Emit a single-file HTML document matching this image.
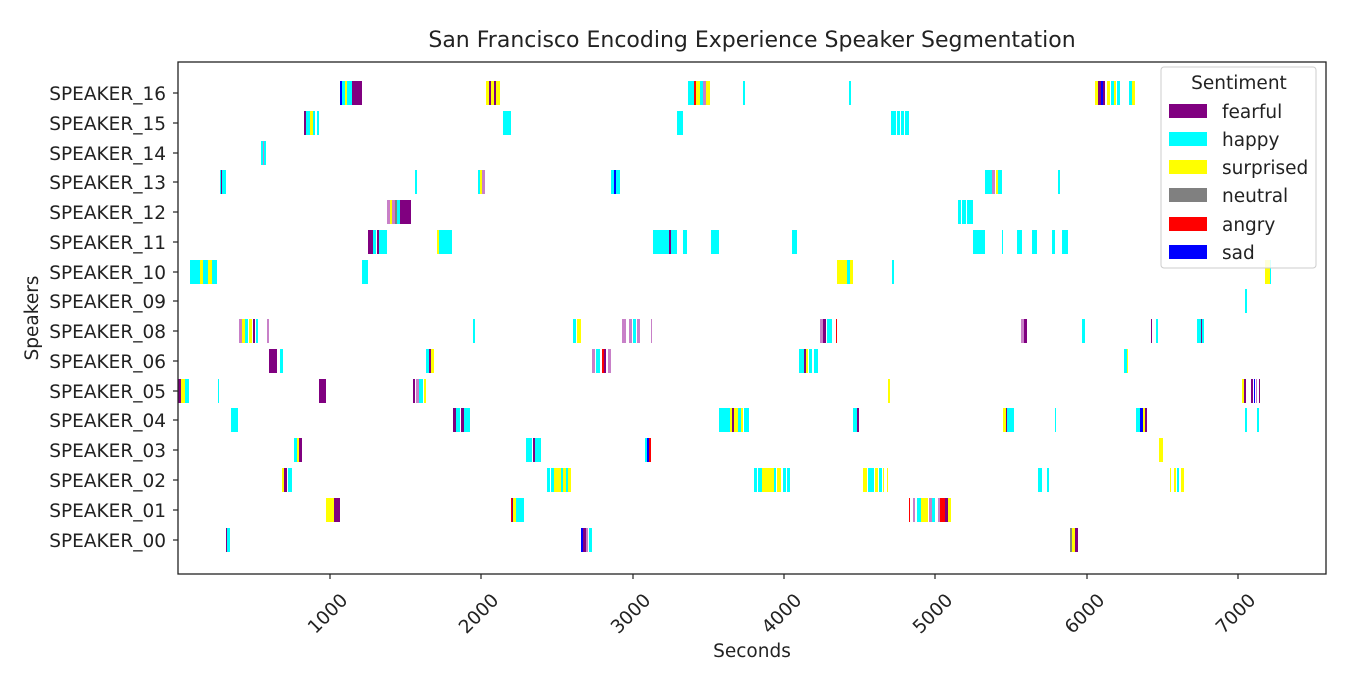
<!DOCTYPE html>
<html><head><meta charset="utf-8"><style>body{margin:0;background:#fff}svg{display:block}text{font-family:"DejaVu Sans","Liberation Sans",sans-serif;fill:#222}</style></head><body>
<svg width="1350" height="676" viewBox="0 0 1350 676" xmlns="http://www.w3.org/2000/svg">
<rect width="1350" height="676" fill="#fff"/>
<text x="752" y="47" font-size="22" text-anchor="middle">San Francisco Encoding Experience Speaker Segmentation</text>
<defs><style>.p{fill:#800080}.c{fill:#00ffff}.y{fill:#ffff00}.g{fill:#808080}.r{fill:#ff0000}.b{fill:#0000ff}.k{fill:#c880c8}.lc{fill:#a0ffff}</style></defs>
<g transform="translate(0,81)">
<rect class="b" x="340" y="0" width="2" height="24"/><rect class="c" x="342" y="0" width="3" height="24"/><rect class="y" x="345" y="0" width="2" height="24"/><rect class="c" x="347" y="0" width="5" height="24"/><rect class="p" x="352" y="0" width="10" height="24"/>
<rect class="y" x="486" y="0" width="3" height="24"/><rect class="p" x="489" y="0" width="2" height="24"/><rect class="y" x="491" y="0" width="3" height="24"/><rect class="p" x="494" y="0" width="2" height="24"/><rect class="y" x="496" y="0" width="4" height="24"/>
<rect class="c" x="688" y="0" width="6" height="24"/><rect class="r" x="694" y="0" width="2" height="24"/><rect class="y" x="696" y="0" width="4" height="24"/><rect class="c" x="700" y="0" width="3" height="24"/><rect class="k" x="703" y="0" width="3" height="24"/><rect class="y" x="706" y="0" width="4" height="24"/>
<rect class="c" x="743" y="0" width="2" height="24"/><rect class="c" x="849" y="0" width="2" height="24"/>
<rect class="y" x="1095" y="0" width="3" height="24"/><rect class="p" x="1098" y="0" width="3" height="24"/><rect class="b" x="1101" y="0" width="2" height="24"/><rect class="p" x="1103" y="0" width="2" height="24"/><rect class="y" x="1107" y="0" width="3" height="24"/><rect class="c" x="1111" y="0" width="3" height="24"/><rect class="y" x="1114" y="0" width="2" height="24"/><rect class="c" x="1117" y="0" width="3" height="24"/><rect class="c" x="1129" y="0" width="3" height="24"/><rect class="y" x="1132" y="0" width="3" height="24"/>
</g>
<g transform="translate(0,111)">
<rect class="p" x="304" y="0" width="2" height="24"/><rect class="c" x="306" y="0" width="4" height="24"/><rect class="y" x="310" y="0" width="3" height="24"/><rect class="c" x="313" y="0" width="2" height="24"/><rect class="c" x="317" y="0" width="2" height="24"/>
<rect class="c" x="503" y="0" width="8" height="24"/><rect class="c" x="677" y="0" width="6" height="24"/>
<rect class="c" x="891" y="0" width="5" height="24"/><rect class="c" x="897" y="0" width="3" height="24"/><rect class="c" x="901" y="0" width="3" height="24"/><rect class="c" x="905" y="0" width="4" height="24"/>
</g>
<g transform="translate(0,141)"><rect class="c" x="261" y="0" width="5" height="24"/><rect class="k" x="263" y="0" width="1" height="24"/></g>
<g transform="translate(0,170)">
<rect class="c" x="220" y="0" width="6" height="24"/><rect class="p" x="221" y="0" width="1" height="24"/>
<rect class="c" x="415" y="0" width="2" height="24"/>
<rect class="c" x="478" y="0" width="2" height="24"/><rect class="y" x="480" y="0" width="2" height="24"/><rect class="k" x="482" y="0" width="3" height="24"/>
<rect class="c" x="611" y="0" width="9" height="24"/><rect class="b" x="614" y="0" width="2" height="24"/>
<rect class="c" x="985" y="0" width="7" height="24"/><rect class="k" x="992" y="0" width="3" height="24"/><rect class="y" x="996" y="0" width="2" height="24"/><rect class="c" x="998" y="0" width="4" height="24"/>
<rect class="c" x="1058" y="0" width="2" height="24"/>
</g>
<g transform="translate(0,200)">
<rect class="k" x="387" y="0" width="3" height="24"/><rect class="y" x="390" y="0" width="2" height="24"/><rect class="k" x="392" y="0" width="3" height="24"/><rect class="g" x="395" y="0" width="2" height="24"/><rect class="c" x="397" y="0" width="3" height="24"/><rect class="p" x="400" y="0" width="11" height="24"/>
<rect class="c" x="958" y="0" width="3" height="24"/><rect class="c" x="962" y="0" width="4" height="24"/><rect class="c" x="967" y="0" width="6" height="24"/>
</g>
<g transform="translate(0,230)">
<rect class="p" x="368" y="0" width="5" height="24"/><rect class="c" x="373" y="0" width="3" height="24"/><rect class="p" x="377" y="0" width="2" height="24"/><rect class="c" x="379" y="0" width="8" height="24"/>
<rect class="y" x="437" y="0" width="2" height="24"/><rect class="c" x="439" y="0" width="13" height="24"/>
<rect class="c" x="653" y="0" width="24" height="24"/><rect class="p" x="669" y="0" width="2" height="24"/>
<rect class="c" x="683" y="0" width="4" height="24"/><rect class="c" x="711" y="0" width="8" height="24"/>
<rect class="c" x="792" y="0" width="5" height="24"/><rect class="c" x="973" y="0" width="12" height="24"/><rect class="c" x="1002" y="0" width="1" height="24"/><rect class="c" x="1017" y="0" width="5" height="24"/><rect class="c" x="1032" y="0" width="5" height="24"/><rect class="c" x="1052" y="0" width="3" height="24"/><rect class="c" x="1062" y="0" width="6" height="24"/>
</g>
<g transform="translate(0,260)">
<rect class="c" x="190" y="0" width="10" height="24"/><rect class="y" x="200" y="0" width="3" height="24"/><rect class="c" x="203" y="0" width="5" height="24"/><rect class="y" x="208" y="0" width="4" height="24"/><rect class="c" x="212" y="0" width="5" height="24"/>
<rect class="c" x="362" y="0" width="6" height="24"/>
<rect class="y" x="837" y="0" width="10" height="24"/><rect class="c" x="847" y="0" width="3" height="24"/><rect class="y" x="850" y="0" width="3" height="24"/>
<rect class="c" x="892" y="0" width="2" height="24"/>
<rect class="y" x="1265" y="0" width="5" height="24"/><rect class="c" x="1270" y="0" width="1" height="24"/>
</g>
<g transform="translate(0,289)"><rect class="c" x="1245" y="0" width="2" height="24"/></g>
<g transform="translate(0,319)">
<rect class="k" x="239" y="0" width="3" height="24"/><rect class="y" x="242" y="0" width="3" height="24"/><rect class="c" x="245" y="0" width="3" height="24"/><rect class="y" x="249" y="0" width="3" height="24"/><rect class="p" x="253" y="0" width="2" height="24"/><rect class="c" x="256" y="0" width="2" height="24"/><rect class="k" x="267" y="0" width="2" height="24"/>
<rect class="c" x="473" y="0" width="2" height="24"/>
<rect class="c" x="573" y="0" width="3" height="24"/><rect class="y" x="577" y="0" width="4" height="24"/>
<rect class="k" x="622" y="0" width="4" height="24"/><rect class="k" x="629" y="0" width="3" height="24"/><rect class="c" x="633" y="0" width="3" height="24"/><rect class="k" x="637" y="0" width="3" height="24"/><rect class="k" x="651" y="0" width="1" height="24"/>
<rect class="k" x="820" y="0" width="3" height="24"/><rect class="p" x="823" y="0" width="3" height="24"/><rect class="c" x="827" y="0" width="5" height="24"/><rect class="r" x="836" y="0" width="1" height="24"/>
<rect class="k" x="1021" y="0" width="3" height="24"/><rect class="p" x="1024" y="0" width="3" height="24"/>
<rect class="c" x="1082" y="0" width="3" height="24"/><rect class="p" x="1151" y="0" width="1" height="24"/><rect class="c" x="1156" y="0" width="2" height="24"/>
<rect class="c" x="1197" y="0" width="4" height="24"/><rect class="p" x="1201" y="0" width="1" height="24"/><rect class="c" x="1202" y="0" width="2" height="24"/>
</g>
<g transform="translate(0,349)">
<rect class="p" x="269" y="0" width="8" height="24"/><rect class="c" x="280" y="0" width="3" height="24"/>
<rect class="c" x="426" y="0" width="3" height="24"/><rect class="p" x="429" y="0" width="2" height="24"/><rect class="y" x="431" y="0" width="3" height="24"/>
<rect class="k" x="592" y="0" width="3" height="24"/><rect class="c" x="596" y="0" width="4" height="24"/><rect class="r" x="602" y="0" width="2" height="24"/><rect class="p" x="604" y="0" width="2" height="24"/><rect class="k" x="608" y="0" width="3" height="24"/>
<rect class="c" x="799" y="0" width="5" height="24"/><rect class="p" x="804" y="0" width="2" height="24"/><rect class="y" x="806" y="0" width="2" height="24"/><rect class="c" x="809" y="0" width="3" height="24"/><rect class="c" x="814" y="0" width="4" height="24"/>
<rect class="c" x="1124" y="0" width="3" height="24"/><rect class="y" x="1127" y="0" width="1" height="24"/>
</g>
<g transform="translate(0,379)">
<rect class="p" x="178" y="0" width="3" height="24"/><rect class="y" x="181" y="0" width="4" height="24"/><rect class="c" x="185" y="0" width="4" height="24"/>
<rect class="c" x="218" y="0" width="1" height="24"/><rect class="p" x="319" y="0" width="7" height="24"/>
<rect class="p" x="413" y="0" width="2" height="24"/><rect class="k" x="416" y="0" width="3" height="24"/><rect class="c" x="419" y="0" width="4" height="24"/><rect class="y" x="424" y="0" width="2" height="24"/>
<rect class="y" x="888" y="0" width="2" height="24"/>
<rect class="y" x="1242" y="0" width="2" height="24"/><rect class="p" x="1244" y="0" width="2" height="24"/><rect class="p" x="1251" y="0" width="2" height="24"/><rect class="b" x="1254" y="0" width="1" height="24"/><rect class="k" x="1256" y="0" width="1" height="24"/><rect class="p" x="1259" y="0" width="1" height="24"/>
</g>
<g transform="translate(0,408)">
<rect class="c" x="231" y="0" width="7" height="24"/>
<rect class="p" x="453" y="0" width="3" height="24"/><rect class="c" x="456" y="0" width="4" height="24"/><rect class="p" x="461" y="0" width="3" height="24"/><rect class="c" x="464" y="0" width="6" height="24"/>
<rect class="c" x="719" y="0" width="11" height="24"/><rect class="y" x="730" y="0" width="2" height="24"/><rect class="p" x="732" y="0" width="2" height="24"/><rect class="y" x="734" y="0" width="4" height="24"/><rect class="c" x="738" y="0" width="3" height="24"/><rect class="y" x="741" y="0" width="2" height="24"/><rect class="c" x="744" y="0" width="5" height="24"/>
<rect class="c" x="853" y="0" width="4" height="24"/><rect class="p" x="857" y="0" width="2" height="24"/>
<rect class="y" x="1003" y="0" width="3" height="24"/><rect class="p" x="1006" y="0" width="1" height="24"/><rect class="c" x="1007" y="0" width="7" height="24"/>
<rect class="c" x="1055" y="0" width="1" height="24"/>
<rect class="c" x="1136" y="0" width="4" height="24"/><rect class="b" x="1140" y="0" width="3" height="24"/><rect class="y" x="1143" y="0" width="2" height="24"/><rect class="p" x="1145" y="0" width="2" height="24"/>
<rect class="c" x="1245" y="0" width="2" height="24"/><rect class="c" x="1257" y="0" width="2" height="24"/>
</g>
<g transform="translate(0,438)">
<rect class="c" x="294" y="0" width="3" height="24"/><rect class="y" x="297" y="0" width="2" height="24"/><rect class="p" x="299" y="0" width="3" height="24"/>
<rect class="c" x="526" y="0" width="6" height="24"/><rect class="p" x="533" y="0" width="2" height="24"/><rect class="c" x="535" y="0" width="6" height="24"/>
<rect class="c" x="645" y="0" width="2" height="24"/><rect class="b" x="647" y="0" width="2" height="24"/><rect class="r" x="649" y="0" width="2" height="24"/>
<rect class="y" x="1159" y="0" width="4" height="24"/>
</g>
<g transform="translate(0,468)">
<rect class="y" x="282" y="0" width="2" height="24"/><rect class="p" x="284" y="0" width="3" height="24"/><rect class="c" x="288" y="0" width="4" height="24"/>
<rect class="c" x="547" y="0" width="3" height="24"/><rect class="c" x="551" y="0" width="3" height="24"/><rect class="y" x="554" y="0" width="7" height="24"/><rect class="c" x="561" y="0" width="2" height="24"/><rect class="y" x="563" y="0" width="3" height="24"/><rect class="c" x="566" y="0" width="2" height="24"/><rect class="y" x="568" y="0" width="3" height="24"/>
<rect class="c" x="754" y="0" width="3" height="24"/><rect class="c" x="758" y="0" width="4" height="24"/><rect class="y" x="762" y="0" width="12" height="24"/><rect class="c" x="774" y="0" width="2" height="24"/><rect class="y" x="777" y="0" width="4" height="24"/><rect class="c" x="783" y="0" width="3" height="24"/><rect class="c" x="787" y="0" width="3" height="24"/>
<rect class="y" x="863" y="0" width="4" height="24"/><rect class="c" x="868" y="0" width="6" height="24"/><rect class="y" x="875" y="0" width="3" height="24"/><rect class="c" x="879" y="0" width="3" height="24"/><rect class="y" x="883" y="0" width="1" height="24"/><rect class="y" x="887" y="0" width="1" height="24"/>
<rect class="c" x="1038" y="0" width="4" height="24"/><rect class="c" x="1047" y="0" width="2" height="24"/>
<rect class="y" x="1170" y="0" width="1" height="24"/><rect class="y" x="1174" y="0" width="2" height="24"/><rect class="c" x="1177" y="0" width="2" height="24"/><rect class="y" x="1181" y="0" width="3" height="24"/>
</g>
<g transform="translate(0,498)">
<rect class="y" x="326" y="0" width="8" height="24"/><rect class="p" x="334" y="0" width="6" height="24"/>
<rect class="r" x="511" y="0" width="1" height="24"/><rect class="p" x="512" y="0" width="1" height="24"/><rect class="y" x="513" y="0" width="3" height="24"/><rect class="c" x="516" y="0" width="8" height="24"/>
<rect class="r" x="909" y="0" width="1" height="24"/><rect class="k" x="913" y="0" width="2" height="24"/><rect class="c" x="917" y="0" width="4" height="24"/><rect class="y" x="921" y="0" width="7" height="24"/><rect class="k" x="929" y="0" width="3" height="24"/><rect class="c" x="932" y="0" width="3" height="24"/><rect class="k" x="938" y="0" width="2" height="24"/><rect class="r" x="940" y="0" width="5" height="24"/><rect class="p" x="945" y="0" width="3" height="24"/><rect class="y" x="948" y="0" width="3" height="24"/>
</g>
<g transform="translate(0,528)">
<rect class="p" x="226" y="0" width="1" height="24"/><rect class="c" x="227" y="0" width="3" height="24"/>
<rect class="b" x="581" y="0" width="2" height="24"/><rect class="p" x="583" y="0" width="3" height="24"/><rect class="k" x="586" y="0" width="2" height="24"/><rect class="c" x="589" y="0" width="3" height="24"/>
<rect class="g" x="1070" y="0" width="2" height="24"/><rect class="y" x="1072" y="0" width="3" height="24"/><rect class="p" x="1075" y="0" width="3" height="24"/>
</g>
<rect x="178" y="62" width="1148" height="512" fill="none" stroke="#222" stroke-width="1.3"/>
<g stroke="#222" stroke-width="1.2">
<line x1="173" y1="93" x2="178" y2="93"/><line x1="173" y1="123" x2="178" y2="123"/><line x1="173" y1="153" x2="178" y2="153"/><line x1="173" y1="182" x2="178" y2="182"/><line x1="173" y1="212" x2="178" y2="212"/><line x1="173" y1="242" x2="178" y2="242"/><line x1="173" y1="272" x2="178" y2="272"/><line x1="173" y1="301" x2="178" y2="301"/><line x1="173" y1="331" x2="178" y2="331"/><line x1="173" y1="361" x2="178" y2="361"/><line x1="173" y1="391" x2="178" y2="391"/><line x1="173" y1="420" x2="178" y2="420"/><line x1="173" y1="450" x2="178" y2="450"/><line x1="173" y1="480" x2="178" y2="480"/><line x1="173" y1="510" x2="178" y2="510"/><line x1="173" y1="540" x2="178" y2="540"/>
<line x1="330" y1="574" x2="330" y2="579"/><line x1="481" y1="574" x2="481" y2="579"/><line x1="633" y1="574" x2="633" y2="579"/><line x1="784" y1="574" x2="784" y2="579"/><line x1="935" y1="574" x2="935" y2="579"/><line x1="1087" y1="574" x2="1087" y2="579"/><line x1="1238" y1="574" x2="1238" y2="579"/>
</g>
<g font-size="18.5" text-anchor="end">
<text x="166" y="100">SPEAKER_16</text><text x="166" y="130">SPEAKER_15</text><text x="166" y="160">SPEAKER_14</text><text x="166" y="189">SPEAKER_13</text><text x="166" y="219">SPEAKER_12</text><text x="166" y="249">SPEAKER_11</text><text x="166" y="279">SPEAKER_10</text><text x="166" y="308">SPEAKER_09</text><text x="166" y="338">SPEAKER_08</text><text x="166" y="368">SPEAKER_06</text><text x="166" y="398">SPEAKER_05</text><text x="166" y="427">SPEAKER_04</text><text x="166" y="457">SPEAKER_03</text><text x="166" y="487">SPEAKER_02</text><text x="166" y="517">SPEAKER_01</text><text x="166" y="547">SPEAKER_00</text>
</g>
<g font-size="18.5" text-anchor="middle">
<text transform="translate(332,618) rotate(-45)">1000</text><text transform="translate(483,618) rotate(-45)">2000</text><text transform="translate(635,618) rotate(-45)">3000</text><text transform="translate(786,618) rotate(-45)">4000</text><text transform="translate(937,618) rotate(-45)">5000</text><text transform="translate(1089,618) rotate(-45)">6000</text><text transform="translate(1240,618) rotate(-45)">7000</text>
<text x="752" y="657">Seconds</text>
<text transform="translate(38,318) rotate(-90)">Speakers</text>
</g>
<rect x="1161" y="67" width="155" height="201" rx="3" fill="#fff" fill-opacity="0.85" stroke="#ccc" stroke-width="1"/>
<text x="1239" y="89" font-size="18.5" text-anchor="middle">Sentiment</text>
<rect x="1169" y="104" width="38" height="14" fill="#800080"/><text x="1222" y="118" font-size="18.5">fearful</text>
<rect x="1169" y="132" width="38" height="14" fill="#00ffff"/><text x="1222" y="146" font-size="18.5">happy</text>
<rect x="1169" y="160" width="38" height="14" fill="#ffff00"/><text x="1222" y="174" font-size="18.5">surprised</text>
<rect x="1169" y="188" width="38" height="14" fill="#808080"/><text x="1222" y="202" font-size="18.5">neutral</text>
<rect x="1169" y="217" width="38" height="14" fill="#ff0000"/><text x="1222" y="231" font-size="18.5">angry</text>
<rect x="1169" y="245" width="38" height="14" fill="#0000ff"/><text x="1222" y="259" font-size="18.5">sad</text>
</svg>
</body></html>
